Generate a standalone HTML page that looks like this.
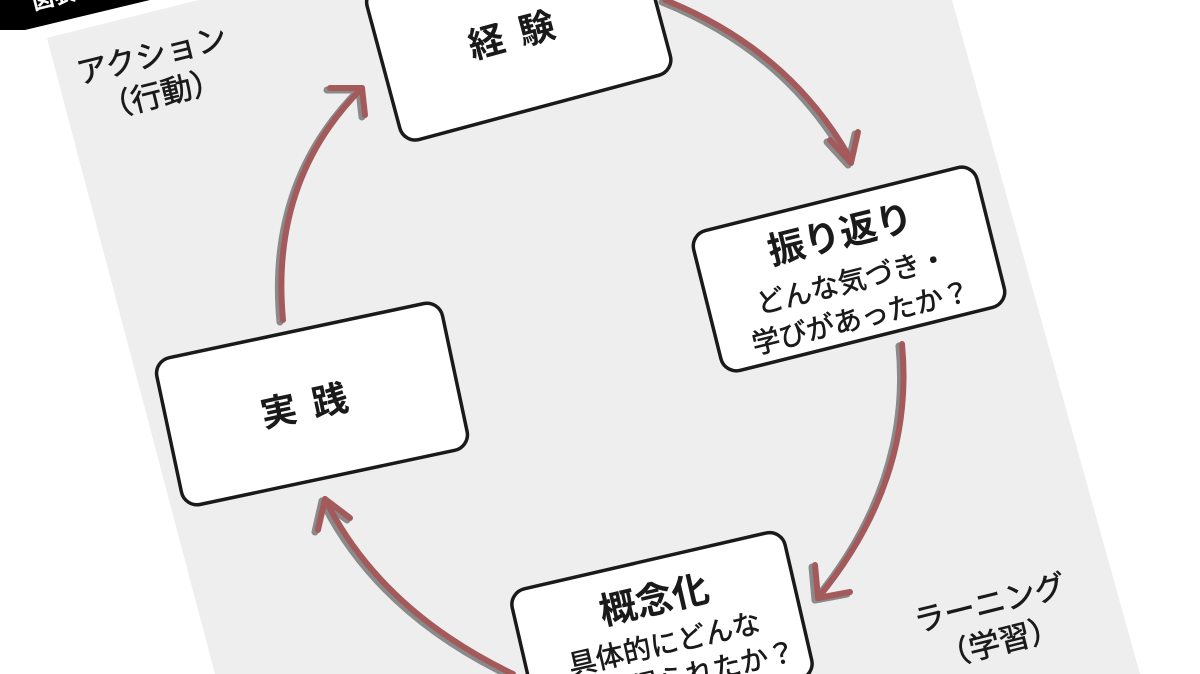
<!DOCTYPE html>
<html><head><meta charset="utf-8"><style>
html,body{margin:0;padding:0;background:#fff;width:1200px;height:674px;overflow:hidden}
svg{display:block;overflow:hidden}
text{font-family:"Liberation Sans","Noto Sans CJK JP",sans-serif;fill:#1a1a1a}
.m{stroke:#1a1a1a;stroke-width:0.6}
</style></head><body>
<svg width="1200" height="674" viewBox="0 0 1200 674" xmlns="http://www.w3.org/2000/svg">
<rect width="1200" height="674" fill="#fff"/>
<polygon points="47,38 199,0 952,0 1140,674 215,674" fill="#eeeeee"/>
<polygon points="0,0 150,0 25,30 20,30" fill="#000"/>
<polygon points="0,0 22,0 22,30 0,30" fill="#000"/>
<text x="34" y="10" font-size="22" font-weight="bold" style="fill:#fff" transform="rotate(-14 34 10)">図表</text>

<g fill="none" stroke-linecap="round" stroke-linejoin="round">
 <g stroke="#8a8a8a" stroke-width="7" transform="translate(-3,2)">
  <path d="M665,0 Q790,50 851,160"/>
  <path d="M830,140 L851,163 L858,132"/>
  <path d="M902,344 Q915,480 818,598"/>
  <path d="M815,565 L818,598 L850,592"/>
  <path d="M513,674 Q380,610 325,499"/>
  <path d="M350,518 L325,499 L318,530"/>
  <path d="M283,320 Q270,180 362,88"/>
  <path d="M330,88 L362,88 L365,115"/>
 </g>
 <g stroke="#a45a5a" stroke-width="6">
  <path d="M665,0 Q790,50 851,160"/>
  <path d="M830,140 L851,163 L858,132"/>
  <path d="M902,344 Q915,480 818,598"/>
  <path d="M815,565 L818,598 L850,592"/>
  <path d="M513,674 Q380,610 325,499"/>
  <path d="M350,518 L325,499 L318,530"/>
  <path d="M283,320 Q270,180 362,88"/>
  <path d="M330,88 L362,88 L365,115"/>
 </g>
</g>

<g transform="translate(519,32) rotate(-15)">
 <rect x="-140" y="-80" width="280" height="158" rx="16" fill="#fff" stroke="#1a1a1a" stroke-width="3.5"/>
 <text x="0" y="14" font-size="36" font-weight="bold" text-anchor="middle" letter-spacing="16">経験</text>
</g>
<g transform="translate(849,269) rotate(-14)">
 <rect x="-146" y="-72" width="292" height="144" rx="16" fill="#fff" stroke="#1a1a1a" stroke-width="3.5"/>
 <text x="0" y="-23" font-size="37" font-weight="bold" text-anchor="middle">振り返り</text>
 <text class="m" x="0" y="22" font-size="28" text-anchor="middle">どんな気づき・</text>
 <text class="m" x="0" y="60" font-size="28" text-anchor="middle">学びがあったか？</text>
</g>
<g transform="translate(312,404) rotate(-12)">
 <rect x="-146" y="-75" width="292" height="150" rx="16" fill="#fff" stroke="#1a1a1a" stroke-width="3.5"/>
 <text x="0" y="13" font-size="36" font-weight="bold" text-anchor="middle" letter-spacing="16">実践</text>
</g>
<g transform="translate(662,634) rotate(-13)">
 <rect x="-140" y="-75" width="280" height="150" rx="16" fill="#fff" stroke="#1a1a1a" stroke-width="3.5"/>
 <text x="0" y="-22" font-size="37" font-weight="bold" text-anchor="middle">概念化</text>
 <text class="m" x="0" y="20" font-size="28" text-anchor="middle">具体的にどんな</text>
 <text class="m" x="0" y="56" font-size="28" text-anchor="middle">教訓が得られたか？</text>
</g>

<g transform="translate(152,56) rotate(-14)">
 <text class="m" x="0" y="10" font-size="31" text-anchor="middle">アクション</text>
 <text class="m" x="0" y="50" font-size="31" text-anchor="middle">（行動）</text>
</g>
<g transform="translate(990,604) rotate(-14)">
 <text class="m" x="0" y="10" font-size="31" text-anchor="middle">ラーニング</text>
 <text class="m" x="0" y="50" font-size="31" text-anchor="middle">（学習）</text>
</g>
</svg>
</body></html>
